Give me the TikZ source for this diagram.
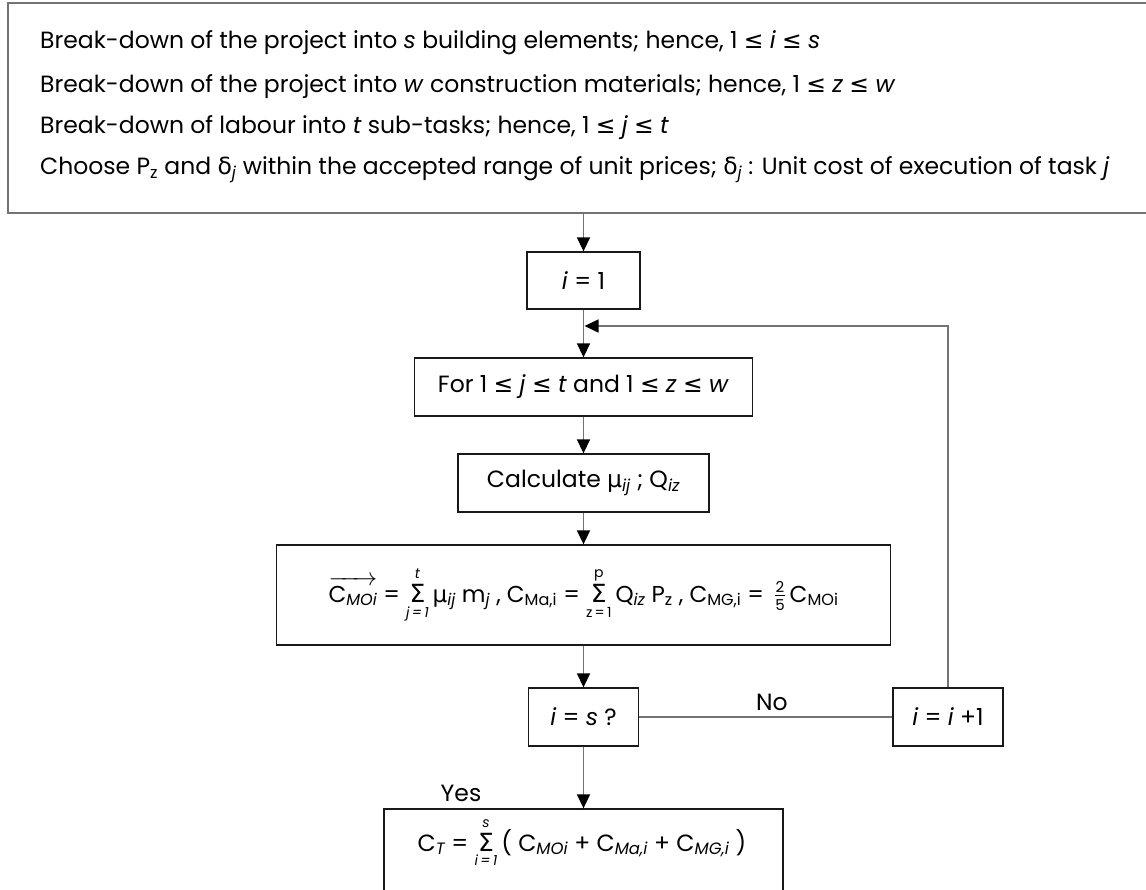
\documentclass[tikz,border=0pt]{standalone}
\usepackage{fontspec}
\usepackage{amsmath}
\setmainfont{Poppins}
\newfontfamily\symfont{DejaVu Sans}
\usetikzlibrary{arrows.meta}
\newcommand\myle{{\symfont ≤}}
\newcommand\mydelta{{\symfont δ}}
\newcommand\mymu{{\symfont μ}}
\newcommand\sbs[1]{\textsubscript{#1}}
\newcommand\isbs[1]{\textsubscript{\itshape #1}}
\newcommand\mysum[2]{\ensuremath{\mathop{\hbox{\fontsize{25}{25}\symfont Σ}}\limits_{\hbox{\fontsize{14}{14}\selectfont #1}}^{\hbox{\fontsize{14}{14}\selectfont #2}}}}
\begin{document}
\begin{tikzpicture}[x=1pt,y=-1pt,
  box/.style={draw=black!90, line width=1.3pt, inner sep=0pt, font=\fontsize{23.5}{28}\selectfont},
  conn/.style={draw=black!55, line width=1.5pt},
  arr/.style={conn, -{Triangle[width=13pt,length=14pt,fill=black,color=black]}},
  txt/.style={inner sep=0pt, font=\fontsize{23.5}{28}\selectfont}]
\useasboundingbox (0,0) rectangle (1146,889);
\clip (0,0) rectangle (1146,889);
% top box
\node[draw=black!55, line width=1.5pt, minimum width=1152pt, minimum height=210pt, inner sep=0pt] (top) at (584,108) {};
\node[txt, anchor=west] (t1) at (40,43) {Break-down of the project into \textit{s} building elements; hence, 1 \myle\ \textit{i} \myle\ \textit{s}};
\node[txt, anchor=west] (t2) at (40,87) {Break-down of the project into \textit{w} construction materials; hence, 1 \myle\ \textit{z} \myle\ \textit{w}};
\node[txt, anchor=west] (t3) at (40,128) {Break-down of labour into \textit{t} sub-tasks; hence, 1 \myle\ \textit{j} \myle\ \textit{t}};
\node[txt, anchor=west] (t4) at (40,170) {Choose P\sbs{z} and \mydelta\isbs{j} within the accepted range of unit prices; \mydelta\isbs{j} : Unit cost of execution of task \textit{j}};
% flow boxes
\node[box, minimum width=113pt, minimum height=57pt] (i1) at (583.5,280.5) {\textit{i} = 1};
\node[box, minimum width=338pt, minimum height=58pt] (for) at (583.5,387) {For 1 \myle\ \textit{j} \myle\ \textit{t} and 1 \myle\ \textit{z} \myle\ \textit{w}};
\node[box, minimum width=251pt, minimum height=58pt] (calc) at (583.5,483) {Calculate \mymu\isbs{ij} ; Q\isbs{iz}};
\node[box, minimum width=614pt, minimum height=100pt, font=\fontsize{23}{27}\selectfont] (form) at (583.5,595) {$\overrightarrow{\hbox{C\isbs{MOi}}}$ = \mysum{\itshape j\,=\,1}{\itshape t}\,\mymu\isbs{ij} m\isbs{j} , C\sbs{Ma,i} = \mysum{z\,=\,1}{p}\,Q\isbs{iz} P\sbs{z} , C\sbs{MG,i} = \,$\frac{\hbox{\fontsize{15}{15}\selectfont 2}}{\hbox{\fontsize{15}{15}\selectfont 5}}$\,C\sbs{MOi}};
\node[box, minimum width=110pt, minimum height=58pt] (is) at (583.5,717) {\textit{i} = \textit{s} ?};
\node[box, minimum width=110pt, minimum height=58pt] (ii) at (948,717) {\textit{i} = \textit{i} +1};
\node[box, minimum width=399pt, minimum height=130pt] (ct) at (583.5,874) {};
\node[txt] (ctf) at (582,843) {C\isbs{T} = \mysum{\itshape i\,=\,1}{\itshape s}\,( C\isbs{MOi} + C\isbs{Ma,i} + C\isbs{MG,i} )};
\coordinate (loopin) at (584.5,326);
% connectors
\draw[arr] (i1.north |- top.south) -- (i1.north);
\draw[arr] (i1.south) -- (for.north);
\draw[arr] (ii.north) |- (loopin);
\draw[arr] (for.south) -- (calc.north);
\draw[arr] (calc.south) -- (form.north);
\draw[arr] (form.south) -- (is.north);
\draw[conn] (is.east) -- (ii.west);
\node[txt] (no) at (772,702) {No};
\draw[arr] (is.south) -- (ct.north);
\node[txt] (yes) at (461,793) {Yes};
\end{tikzpicture}
\end{document}
